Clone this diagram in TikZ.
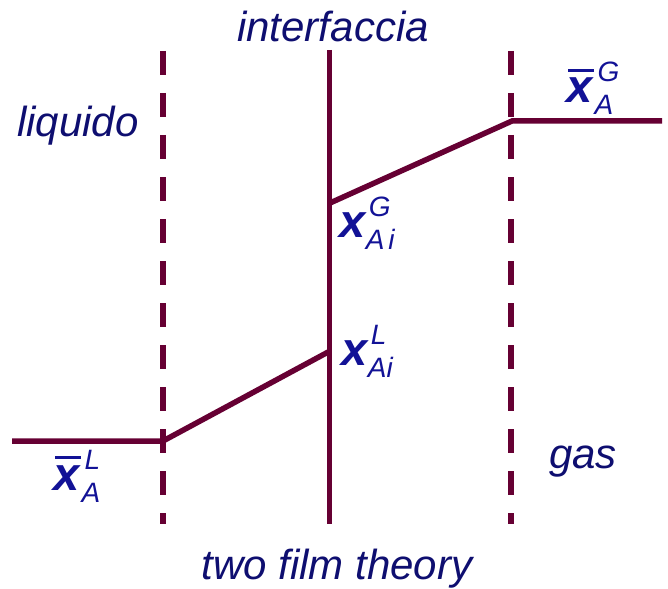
\documentclass[tikz,border=0pt]{standalone}
\usepackage{fontspec}
\setmainfont{Liberation Sans}
\definecolor{linecol}{RGB}{102,0,51}
\definecolor{titleblue}{RGB}{14,14,112}
\definecolor{labelblue}{RGB}{18,18,150}
\newcommand\xsym{{\fontsize{47}{47}\selectfont\bfseries\itshape x}}
\newcommand\xbarsym{\leavevmode\vbox{\hbox{\kern2pt\rule{26pt}{2.8pt}}\kern5.5pt\hbox{\xsym}}}
\newcommand\smallit[1]{{\fontsize{28}{28}\selectfont\itshape #1}}
\newcommand\lab[4]{#1\rlap{\kern#4\raisebox{21pt}{\smallit{#2}}}\kern0.5pt\raisebox{-12pt}{\smallit{#3}}}
\begin{document}
\begin{tikzpicture}[x=1pt,y=-1pt,
  titletext/.style={font=\fontsize{42}{42}\selectfont\itshape, text=titleblue, inner sep=0pt, anchor=base},
  labeltext/.style={text=labelblue, inner sep=0pt, anchor=base west},
  solidline/.style={draw=linecol, line width=5.5pt},
  dashline/.style={draw=linecol, line width=5.5pt, dash pattern=on 24pt off 18pt},
  profile/.style={draw=linecol, line width=5.5pt, line join=miter}]
\useasboundingbox (0,0) rectangle (668,588);

% vertical lines
\coordinate (ltop) at (163,51);
\coordinate (lbot) at (163,524);
\coordinate (itop) at (329.5,50);
\coordinate (ibot) at (329.5,524);
\coordinate (rtop) at (511,51);
\coordinate (rbot) at (511,524);
\draw[dashline] (ltop) -- (lbot);
\draw[dashline] (rtop) -- (rbot);
\draw[solidline] (itop) -- (ibot);

% concentration profile
\coordinate (p1) at (12,441);
\coordinate (p2) at (163,441);
\coordinate (p3) at (330,351);
\coordinate (q1) at (330,203);
\coordinate (q2) at (512,121);
\coordinate (q3) at (662,121);
\draw[profile] (p1) -- (p2) -- (p3);
\draw[profile] (q1) -- (q2) -- (q3);

% texts
\node[titletext] (interf) at (333,42) {interfaccia};
\node[titletext] (liq) at (78,137) {liquido};
\node[titletext] (gas) at (583,468) {gas};
\node[titletext] (theory) at (337,579) {two film theory};

% labels
\node[labeltext] (xbl) at (53,490) {\lab{\xbarsym}{L}{A}{3.5pt}};
\node[labeltext] (xil) at (341,365) {\lab{\xsym}{L}{Ai}{3.5pt}};
\node[labeltext] (xig) at (339,237) {\lab{\xsym}{G}{A\hspace{4pt}i}{3.5pt}};
\node[labeltext] (xbg) at (566,103) {\lab{\xbarsym}{G}{A}{3.5pt}};
\end{tikzpicture}
\end{document}
